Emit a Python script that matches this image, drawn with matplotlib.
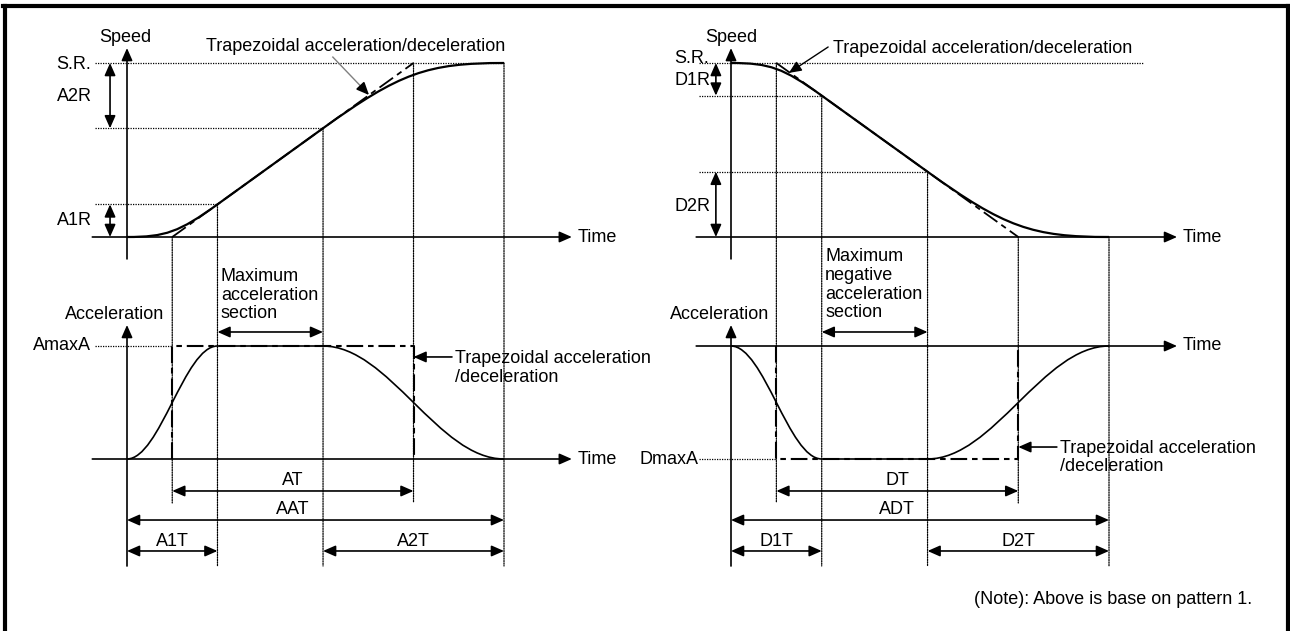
import matplotlib
matplotlib.use('Agg')
import matplotlib.pyplot as plt
from matplotlib.path import Path
from matplotlib.patches import PathPatch, ConnectionPatch
from matplotlib.lines import Line2D

plt.rcParams['font.family'] = ['Liberation Sans', 'DejaVu Sans']
plt.rcParams['font.size'] = 13
plt.rcParams['lines.scale_dashes'] = False

# data (time in % of AAT / ADT, speed in S.R., acceleration in AmaxA / DmaxA)
# ----
phase_t = [0, 24, 52, 100]      # start, end of A1T/D1T, start of A2T/D2T, end
trap_t = [12, 76]               # corners of the trapezoidal profile (AT / DT)
acc_speed = [0, 0.1875, 0.625, 1.0]
dec_speed = [1.0, 0.8125, 0.375, 0.0]
acc_level = [0, 1, 1, 0]
dec_level = [0, -1, -1, 0]

acc_range_lbl = ['A1R', 'A2R']
dec_range_lbl = ['D1R', 'D2R']
acc_dim_lbl = ['AT', 'AAT', 'A1T', 'A2T']
dec_dim_lbl = ['DT', 'ADT', 'D1T', 'D2T']
max_lbl = ['AmaxA', 'DmaxA']
section_lbl = ['Maximum\nacceleration\nsection',
               'Maximum\nnegative\nacceleration\nsection']
trap_lbl = 'Trapezoidal acceleration/deceleration'
trap_lbl2 = 'Trapezoidal acceleration\n/deceleration'
note = '(Note): Above is base on pattern 1.'

W, H = 1290, 631
DOT = (0, (0.9, 0.9))
TRAP = (0, (12, 3.5, 4, 3.5))
K_ACC = 0.3634   # tangent length of the S ramp
K_SPD = 0.4245   # tangent length of the speed bends

fig = plt.figure(figsize=(W / 100, H / 100), dpi=100)


def px_axes(x0, x1, y0, y1, ylim):
    ax = fig.add_axes([x0 / W, 1 - y1 / H, (x1 - x0) / W, (y1 - y0) / H])
    ax.set_xlim(0, 100)
    ax.set_ylim(*ylim)
    ax.axis('off')
    return ax


def arrow(ax, p0, p1, both=True, color='black', lw=1.2):
    style = ('<|-|>' if both else '-|>') + ',head_length=0.5,head_width=0.22'
    ax.annotate('', xy=p1, xytext=p0, annotation_clip=False,
                arrowprops=dict(arrowstyle=style, color=color, lw=lw,
                                shrinkA=0, shrinkB=0, mutation_scale=15))


def s_path(t, y, k, m):
    # bend - straight - bend, m = slope at the straight part
    d1 = t[1] - t[0]
    d2 = t[3] - t[2]
    verts = [(t[0], y[0]), (t[0] + k * d1, y[0]), (t[1] - k * d1, y[1] - m * k * d1),
             (t[1], y[1]), (t[2], y[2]), (t[2] + k * d2, y[2] + m * k * d2),
             (t[3] - k * d2, y[3]), (t[3], y[3])]
    codes = [Path.MOVETO] + [Path.CURVE4] * 3 + [Path.LINETO] + [Path.CURVE4] * 3
    return Path(verts, codes)


def dotted(ax, xs, ys):
    ax.plot(xs, ys, color='black', lw=0.9, ls=DOT, clip_on=False)


def speed_panel(ax, v, rng_lbl, lbl_x, sr_y, rng_y, arr_x, sr_end, spd_x):
    arrow(ax, (-9.2, 0), (118, 0), both=False)
    ax.text(119.4, 0, 'Time', ha='left', va='center')
    arrow(ax, (0, -0.126), (0, 1.086), both=False)
    ax.text(spd_x, 1.144, 'Speed', ha='center', va='center')
    # trapezoidal line and S curve
    ax.plot([trap_t[0], trap_t[1]], [v[0], v[3]], color='black', lw=1.3,
            ls=TRAP, clip_on=False)
    m = (v[2] - v[1]) / (phase_t[2] - phase_t[1])
    ax.add_patch(PathPatch(s_path(phase_t, v, K_SPD, m), fill=False,
                           lw=1.6, color='black', clip_on=False))
    # level lines
    dotted(ax, [-8.4, sr_end], [1, 1])
    dotted(ax, [-8.4, phase_t[1]], [v[1], v[1]])
    dotted(ax, [-8.4, phase_t[2]], [v[2], v[2]])
    ax.text(lbl_x, sr_y, 'S.R.', ha='right', va='center')
    arrow(ax, (arr_x, v[0]), (arr_x, v[1]))
    arrow(ax, (arr_x, v[2]), (arr_x, v[3]))
    ax.text(lbl_x + 0.3, rng_y[0], rng_lbl[0], ha='right', va='center')
    ax.text(lbl_x + 0.3, rng_y[1], rng_lbl[1], ha='right', va='center')


def accel_panel(ax, a, mx_lbl, sec_lbl, sec_y, dim_lbl, tip_y, txt_y, acc_x, max_x):
    top = max(a)
    bot = min(a)
    arrow(ax, (-9.2, 0), (118, 0), both=False)
    ax.text(119.4, 0, 'Time', ha='left', va='center')
    arrow(ax, (0, bot - 0.947), (0, top + 0.186), both=False)
    ax.text(acc_x, top + 0.283, 'Acceleration', ha='center', va='center')
    dotted(ax, [-8.5, trap_t[0]], [a[1], a[1]])
    ax.text(max_x, a[1], mx_lbl, ha='right', va='center')
    # trapezoid and S curve
    ax.plot([trap_t[0], trap_t[0], trap_t[1], trap_t[1]], [0, a[1], a[1], 0],
            color='black', lw=1.5, ls=TRAP, clip_on=False)
    ax.add_patch(PathPatch(s_path(phase_t, a, K_ACC, 0), fill=False,
                           lw=1.2, color='black', clip_on=False))
    # maximum section
    arrow(ax, (phase_t[1], top + 0.124), (phase_t[2], top + 0.124))
    ax.text(phase_t[1] + 0.9, sec_y, sec_lbl, ha='left', va='center', linespacing=1.15)
    arrow(ax, (86.2, tip_y), (trap_t[1], tip_y), both=False)
    ax.text(87, txt_y, trap_lbl2, ha='left', va='center', linespacing=1.1)
    # time spans
    mid = (trap_t[0] + trap_t[1]) / 2
    spans = [(trap_t[0], trap_t[1], mid), (phase_t[0], phase_t[3], mid),
             (phase_t[0], phase_t[1], (phase_t[0] + phase_t[1]) / 2),
             (phase_t[2], phase_t[3], (phase_t[2] + phase_t[3]) / 2)]
    for (x0, x1, xm), lbl, yy, ty in zip(spans, dim_lbl, [0.283, 0.54, 0.814, 0.814],
                                         [0.186, 0.451, 0.726, 0.726]):
        arrow(ax, (x0, bot - yy), (x1, bot - yy))
        ax.text(xm, bot - ty, lbl, ha='center', va='center')


def guides(ax_s, ax_a, v, a):
    bot = min(a)
    ends = [(trap_t[0], v[0], 0.389), (phase_t[1], v[1], 0.947), (phase_t[2], v[2], 0.947),
            (trap_t[1], v[3], 0.389), (phase_t[3], v[3], 0.947)]
    for t, y, d in ends:
        cp = ConnectionPatch(xyA=(t, y), coordsA=ax_s.transData,
                             xyB=(t, bot - d), coordsB=ax_a.transData,
                             color='black', lw=0.9, ls=DOT)
        fig.add_artist(cp)


# left: acceleration
ax1 = px_axes(127, 504, 63, 237, (0, 1))
ax2 = px_axes(127, 504, 346, 459, (0, 1))
speed_panel(ax1, acc_speed, acc_range_lbl, -9.5, 0.99, [0.092, 0.805], -4.5, 100, -0.5)
accel_panel(ax2, acc_level, max_lbl[0], section_lbl[0], 1.451, acc_dim_lbl,
            0.903, 0.805, -3.2, -9.5)
guides(ax1, ax2, acc_speed, acc_level)
ax1.text(20.9, 1.092, trap_lbl, ha='left', va='center')
ax1.plot([54.6, 62.3], [1.034, 0.860], color='grey', lw=1, clip_on=False)
arrow(ax1, (62.3, 0.860), (64.2, 0.816), both=False)

# right: deceleration
ax3 = px_axes(731, 1109, 63, 237, (0, 1))
ax4 = px_axes(731, 1109, 346, 459, (-1, 0))
speed_panel(ax3, dec_speed, dec_range_lbl, -5.8, 1.023, [0.902, 0.178], -4.0, 109, 0)
accel_panel(ax4, dec_level, max_lbl[1], section_lbl[1], 0.544, dec_dim_lbl,
            -0.894, -0.987, -2.9, -8.7)
guides(ax3, ax4, dec_speed, dec_level)
ax3.text(27.0, 1.086, trap_lbl, ha='left', va='center')
arrow(ax3, (25.7, 1.092), (15.3, 0.943), both=False, lw=1)

# frame and note
fig.add_artist(Line2D([5 / W, 5 / W], [0, 1 - 6 / H], transform=fig.transFigure, lw=3, color='black'))
fig.add_artist(Line2D([3 / W, 1288 / W], [1 - 6 / H, 1 - 6 / H], transform=fig.transFigure, lw=3, color='black'))
fig.add_artist(Line2D([1288 / W, 1288 / W], [0, 1 - 6 / H], transform=fig.transFigure, lw=3, color='black'))
fig.text(1252 / W, 1 - 600 / H, note, ha='right', va='center')

fig.savefig('out.png', dpi=100)
